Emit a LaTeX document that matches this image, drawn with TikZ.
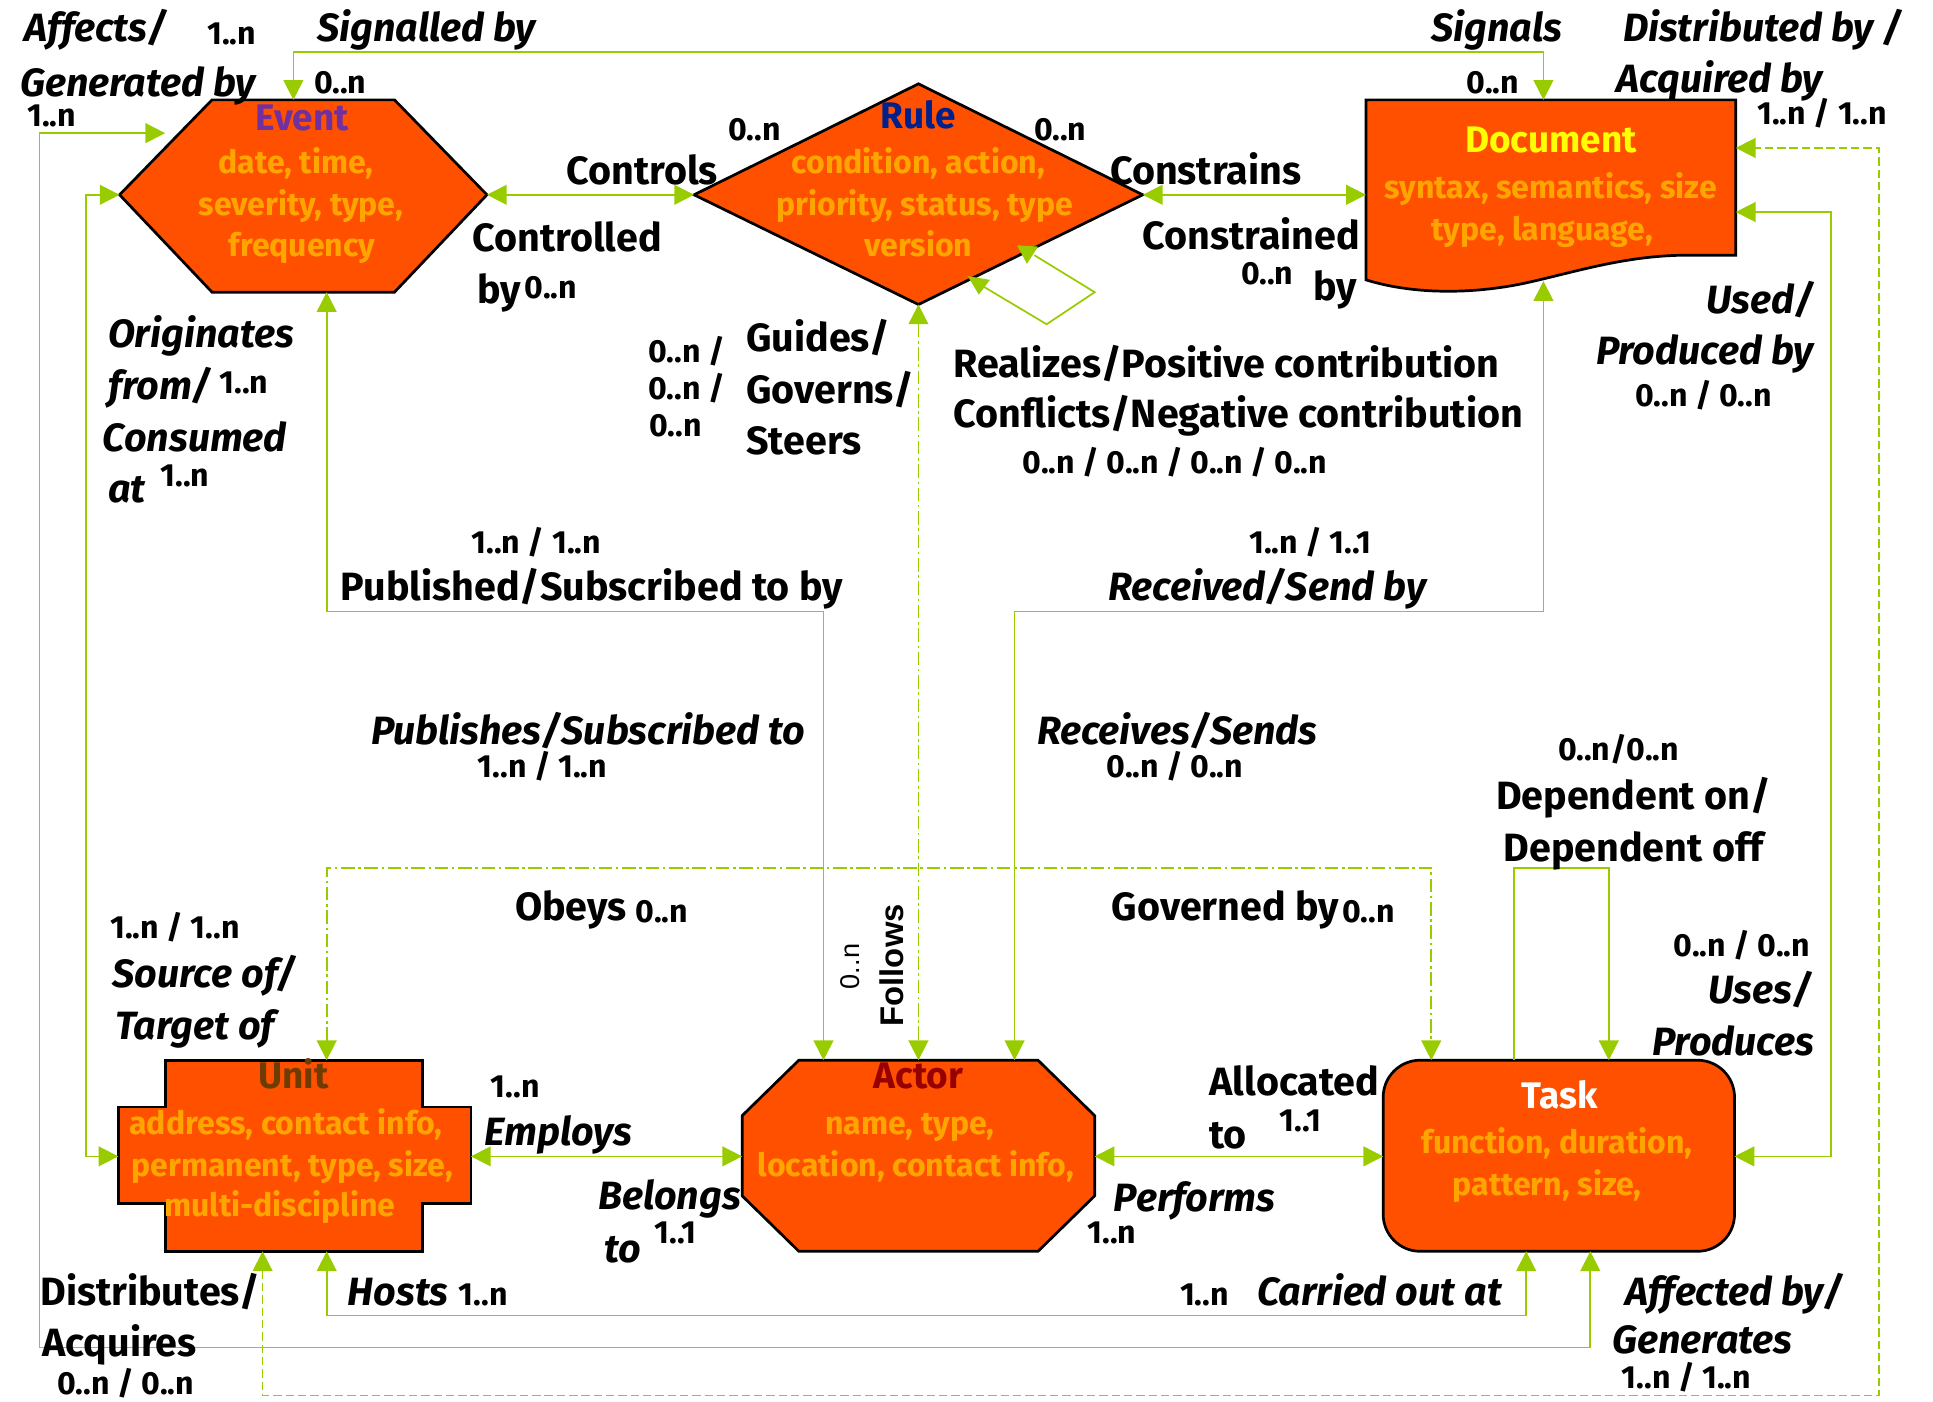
\documentclass[tikz,border=0pt]{standalone}
\usepackage{fontspec}
\setmainfont{Fira Sans}
\newfontfamily\arialf{Liberation Sans}
\usetikzlibrary{arrows.meta}
\definecolor{lgreen}{RGB}{153,204,0}
\definecolor{shapefill}{RGB}{255,80,0}
\definecolor{attrc}{RGB}{255,165,0}
\definecolor{evc}{RGB}{112,48,160}
\definecolor{rulec}{RGB}{0,32,140}
\definecolor{docc}{RGB}{255,255,0}
\definecolor{unitc}{RGB}{110,60,0}
\definecolor{actc}{RGB}{150,0,0}
\begin{document}
\begin{tikzpicture}[x=0.5pt,y=-0.5pt,
  >={Triangle[length=8pt,width=8pt]},
  conn/.style={draw=lgreen, line width=0.7pt},
  dashdot/.style={conn, dash pattern=on 5.5pt off 1.5pt on 1pt off 1.5pt},
  dsh/.style={conn, dash pattern=on 3.4pt off 1.6pt},
  shp/.style={fill=shapefill, draw=black, line width=1.1pt, line join=miter},
  lab/.style={inner sep=0pt, text height=0.7em, text depth=0pt, yshift=-2.5pt, font=\fontsize{16}{21}\selectfont\bfseries},
  ilab/.style={lab, font=\fontsize{16}{21}\selectfont\bfseries\itshape},
  card/.style={inner sep=0pt, text height=0.7em, text depth=0pt, yshift=-1pt, font=\fontsize{13}{15}\selectfont\bfseries},
  attr/.style={inner sep=0pt, text height=0.7em, text depth=0pt, yshift=-1.5pt, text=attrc, font=\fontsize{13}{17}\selectfont\bfseries},
  ttl/.style={inner sep=0pt, text height=0.7em, text depth=0pt, yshift=-2pt, font=\fontsize{15}{18}\selectfont\bfseries}
]
\useasboundingbox (0,0) rectangle (1568,1137);

% ---------------- shapes ----------------
\draw[shp] (97,158) -- (172,81) -- (320,81) -- (395,158) -- (320,237) -- (172,237) -- cycle;
\draw[shp] (563,158) -- (745,68) -- (927,158) -- (745,247) -- cycle;
\draw[shp] (1108,227) -- (1108,81) -- (1408,81) -- (1408,207) -- (1369,207)
   .. controls (1320,207) and (1280,220) .. (1240,229)
   .. controls (1200,238) and (1150,240) .. (1108,227) -- cycle;
\draw[shp] (134,860) -- (343,860) -- (343,898) -- (382,898) -- (382,976) -- (343,976) -- (343,1015)
   -- (134,1015) -- (134,976) -- (96,976) -- (96,898) -- (134,898) -- cycle;
\draw[shp] (648,860) -- (842,860) -- (888,905) -- (888,970) -- (842,1015) -- (648,1015) -- (602,970) -- (602,905) -- cycle;
\draw[shp, rounded corners=15pt] (1122,860) rectangle (1407,1015);

% ---------------- anchor coordinates ----------------
\coordinate (ev-l) at (97,158);
\coordinate (ev-r) at (395,158);
\coordinate (ev-t) at (238,81);
\coordinate (ev-b) at (265,237);
\coordinate (ev-g) at (134,108);
\coordinate (ru-l) at (563,158);
\coordinate (ru-r) at (927,158);
\coordinate (ru-b) at (745,247);
\coordinate (do-l) at (1108,158);
\coordinate (do-t) at (1252,81);
\coordinate (do-b) at (1252,228);
\coordinate (do-r1) at (1408,120);
\coordinate (do-r2) at (1408,172);
\coordinate (un-l) at (96,938);
\coordinate (un-r) at (382,938);
\coordinate (un-t) at (265,860);
\coordinate (un-b1) at (213,1015);
\coordinate (un-b2) at (265,1015);
\coordinate (ac-l) at (602,938);
\coordinate (ac-r) at (888,938);
\coordinate (ac-t1) at (668,860);
\coordinate (ac-t2) at (745,860);
\coordinate (ac-t3) at (823,860);
\coordinate (ta-l) at (1122,938);
\coordinate (ta-r) at (1407,938);
\coordinate (ta-t1) at (1161,860);
\coordinate (ta-t2) at (1228,860);
\coordinate (ta-t3) at (1305,860);
\coordinate (ta-b1) at (1238,1015);
\coordinate (ta-b2) at (1290,1015);

% ---------------- connectors ----------------
\draw[conn,<->] (ev-r) -- (ru-l);
\draw[conn,<->] (ru-r) -- (do-l);
\draw[conn,<->] (ev-t) -- (238,42) -- (1252,42) -- (do-t);
\draw[conn,<->] (ev-g) -- (32,108) -- (32,1093) -- (1290,1093) -- (ta-b2);
\draw[conn,<->] (ev-l) -- (70,158) -- (70,938) -- (un-l);
\draw[conn,<->] (ev-b) -- (265,496) -- (668,496) -- (ac-t1);
\draw[conn,<->] (do-b) -- (1252,496) -- (823,496) -- (ac-t3);
\draw[dashdot,<->] (ru-b) -- (ac-t2);
\draw[dashdot,<->] (un-t) -- (265,704) -- (1161,704) -- (ta-t1);
\draw[conn,<->] (un-r) -- (ac-l);
\draw[conn,<->] (ac-r) -- (ta-l);
\draw[conn,<->] (un-b2) -- (265,1067) -- (1238,1067) -- (ta-b1);
\draw[dsh,<->] (un-b1) -- (213,1132) -- (1524,1132) -- (1524,120) -- (do-r1);
\draw[conn,<->] (do-r2) -- (1485,172) -- (1485,938) -- (ta-r);
\draw[conn,->] (ta-t2) -- (1228,704) -- (1305,704) -- (ta-t3);
% rule self loop
\coordinate (rl-a) at (839,207);
\coordinate (rl-b) at (797,232);
\draw[conn] (rl-b) -- (849,263) -- (888,237) -- (rl-a);
\fill[lgreen] (825,199) -- (842,200) -- (833,214) -- cycle;
\fill[lgreen] (785,224) -- (803,227) -- (794,239) -- cycle;

% ---------------- shape texts ----------------
\node[ttl, text=evc] (t-ev) at (245,95) {Event};
\node[attr] (a-ev1) at (240,131) {date, time,};
\node[attr] (a-ev2) at (244,165) {severity, type,};
\node[attr] (a-ev3) at (245,198) {frequency};
\node[ttl, text=rulec] (t-ru) at (745,93) {Rule};
\node[attr] (a-ru1) at (745,131) {condition, action,};
\node[attr] (a-ru2) at (750,165) {priority, status, type};
\node[attr] (a-ru3) at (745,198) {version};
\node[ttl, text=docc] (t-do) at (1258,113) {Document};
\node[attr] (a-do1) at (1258,151) {syntax, semantics, size};
\node[attr] (a-do2) at (1251,185) {type, language,};
\node[ttl, text=unitc] (t-un) at (238,872) {Unit};
\node[attr] (a-un1) at (232,910) {address, contact info,};
\node[attr] (a-un2) at (237,944) {permanent, type, size,};
\node[attr] (a-un3) at (227,977) {multi-discipline};
\node[ttl, text=actc] (t-ac) at (745,872) {Actor};
\node[attr] (a-ac1) at (738,910) {name, type,};
\node[attr] (a-ac2) at (743,944) {location, contact info,};
\node[ttl, text=white] (t-ta) at (1265,888) {Task};
\node[attr] (a-ta1) at (1263,926) {function, duration,};
\node[attr] (a-ta2) at (1255,960) {pattern, size,};

% ---------------- labels ----------------
\node[ilab] (l1) at (78,22) {Affects/};
\node[card] (c1) at (188,27) {1..n};
\node[ilab] (l2) at (112,66) {Generated by};
\node[card] (c2) at (42,94) {1..n};
\node[ilab] (l3) at (346,22) {Signalled by};
\node[card] (c3) at (276,67) {0..n};
\node[ilab] (l4) at (1214,22) {Signals};
\node[card] (c4) at (1211,67) {0..n};
\node[ilab] (l5) at (1430,22) {Distributed by /};
\node[ilab] (l6) at (1395,63) {Acquired by};
\node[card] (c5) at (1478,92) {1..n / 1..n};
\node[card] (c6) at (612,105) {0..n};
\node[card] (c7) at (860,105) {0..n};
\node[lab] (l7) at (521,138) {Controls};
\node[lab] (l8) at (978,138) {Constrains};
\node[lab] (l9) at (460,192) {Controlled};
\node[lab] (l10) at (405,234) {by};
\node[card] (c8) at (447,233) {0..n};
\node[lab] (l11) at (1015,190) {Constrained};
\node[card] (c9) at (1028,222) {0..n};
\node[lab] (l12) at (1083,232) {by};
\node[ilab] (l13) at (1428,242) {Used/};
\node[ilab] (l14) at (1383,284) {Produced by};
\node[card] (c10) at (1382,321) {0..n / 0..n};
\node[ilab] (l15) at (163,270) {Originates};
\node[ilab] (l16) at (130,312) {from/};
\node[card] (c11) at (198,310) {1..n};
\node[ilab] (l17) at (158,354) {Consumed};
\node[ilab] (l18) at (103,396) {at};
\node[card] (c12) at (150,386) {1..n};
\node[card] (c13) at (557,285) {0..n /};
\node[card] (c14) at (557,315) {0..n /};
\node[card] (c15) at (548,345) {0..n};
\node[lab, anchor=west] (l19) at (605,273) {Guides/};
\node[lab, anchor=west] (l20) at (605,315) {Governs/};
\node[lab, anchor=west] (l21) at (605,357) {Steers};
\node[lab, anchor=west] (l22) at (773,294) {Realizes/Positive contribution};
\node[lab, anchor=west] (l23) at (773,335) {Conflicts/Negative contribution};
\node[card] (c16) at (953,375) {0..n / 0..n / 0..n / 0..n};
\node[card] (c17) at (435,440) {1..n / 1..n};
\node[lab] (l24) at (480,475) {Published/Subscribed to by};
\node[card] (c18) at (1063,440) {1..n / 1..1};
\node[ilab] (l25) at (1028,475) {Received/Send by};
\node[ilab] (l26) at (477,592) {Publishes/Subscribed to};
\node[card] (c19) at (440,622) {1..n / 1..n};
\node[ilab] (l27) at (955,592) {Receives/Sends};
\node[card] (c20) at (953,622) {0..n / 0..n};
\node[card] (c21) at (1313,608) {0..n/0..n};
\node[lab] (l28) at (1325,645) {Dependent on/};
\node[lab] (l29) at (1325,687) {Dependent off};
\node[lab] (l30) at (463,735) {Obeys};
\node[card] (c22) at (537,739) {0..n};
\node[lab] (l31) at (994,735) {Governed by};
\node[card] (c23) at (1110,739) {0..n};
\node[card] (c24) at (142,752) {1..n / 1..n};
\node[ilab] (l32) at (166,789) {Source of/};
\node[ilab] (l33) at (158,831) {Target of};
\node[card] (c25) at (1413,767) {0..n / 0..n};
\node[ilab] (l34) at (1428,802) {Uses/};
\node[ilab] (l35) at (1406,844) {Produces};
\node[inner sep=0pt, rotate=90, font=\arialf\fontsize{13.3}{15}\selectfont\bfseries] (l36) at (723,783) {Follows};
\node[inner sep=0pt, rotate=90, font=\arialf\fontsize{11}{13}\selectfont] (c26) at (690,784) {0..n};
\node[card] (c27) at (418,881) {1..n};
\node[ilab] (l37) at (453,917) {Employs};
\node[lab] (l38) at (1050,877) {Allocated};
\node[lab] (l39) at (996,920) {to};
\node[card] (c28) at (1055,909) {1..1};
\node[ilab] (l40) at (543,969) {Belongs};
\node[ilab] (l41) at (505,1012) {to};
\node[card] (c29) at (548,1000) {1..1};
\node[ilab] (l42) at (969,971) {Performs};
\node[card] (c30) at (902,1000) {1..n};
\node[lab] (l43) at (122,1047) {Distributes/};
\node[lab] (l44) at (97,1088) {Acquires};
\node[card] (c31) at (102,1122) {0..n / 0..n};
\node[ilab] (l45) at (323,1047) {Hosts};
\node[card] (c32) at (392,1050) {1..n};
\node[card] (c33) at (977,1050) {1..n};
\node[ilab] (l46) at (1119,1047) {Carried out at};
\node[ilab] (l47) at (1407,1047) {Affected by/};
\node[ilab] (l48) at (1381,1086) {Generates};
\node[card] (c34) at (1368,1117) {1..n / 1..n};
\end{tikzpicture}
\end{document}
